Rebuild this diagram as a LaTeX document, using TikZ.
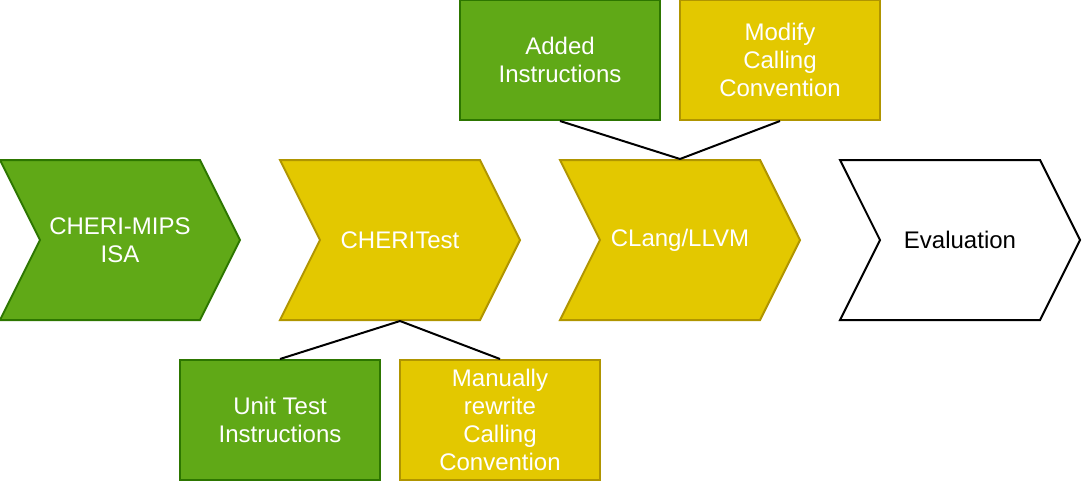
\documentclass[tikz,border=0pt]{standalone}
\usepackage{fontspec}
\setmainfont{Liberation Sans}
\usetikzlibrary{shapes.symbols}
\definecolor{stepgreen}{HTML}{60A917}
\definecolor{stepgreenline}{HTML}{2D7600}
\definecolor{stepyellow}{HTML}{E3C800}
\definecolor{stepyellowline}{HTML}{B09500}
\tikzset{
  greenfill/.style={fill=stepgreen, draw=stepgreenline, text=white},
  yellowfill/.style={fill=stepyellow, draw=stepyellowline, text=white},
  whitefill/.style={fill=white, draw=black, text=black},
  chevron/.style={signal, signal to=east, signal from=west, signal pointer angle=126.87,
    minimum width=240pt, minimum height=160pt, inner sep=0pt, align=center},
  taskbox/.style={rectangle, minimum width=200pt, minimum height=120pt, inner sep=0pt, align=center},
  link/.style={draw=black, line width=2pt}
}
\begin{document}
\begin{tikzpicture}[x=1pt, y=-1pt, line width=2pt,
  font=\fontsize{24pt}{28pt}\selectfont]
  \useasboundingbox (0,0) rectangle (1082,482);
  % Steps
  \node [chevron, greenfill]  (isa)  at (120, 240) {CHERI-MIPS\\ISA};
  \node [chevron, yellowfill] (test) at (400, 240) {CHERITest};
  \node [chevron, yellowfill] (llvm) at (680, 240) {CLang/LLVM};
  \node [chevron, whitefill]  (eval) at (960, 240) {Evaluation};
  % Above CLang/LLVM
  \node [taskbox, greenfill]  (added)  at (560, 60) {Added\\Instructions};
  \node [taskbox, yellowfill] (modify) at (780, 60) {Modify\\Calling\\Convention};
  % Below CHERITest
  \node [taskbox, greenfill]  (unit)    at (280, 420) {Unit Test\\Instructions};
  \node [taskbox, yellowfill] (rewrite) at (500, 420) {Manually\\rewrite\\Calling\\Convention};
  % Links
  \foreach \a/\b in {added/llvm, modify/llvm}
    \draw [link] (\a.south) -- (\b.north);
  \foreach \a/\b in {unit/test, rewrite/test}
    \draw [link] (\a.north) -- (\b.south);
\end{tikzpicture}
\end{document}
